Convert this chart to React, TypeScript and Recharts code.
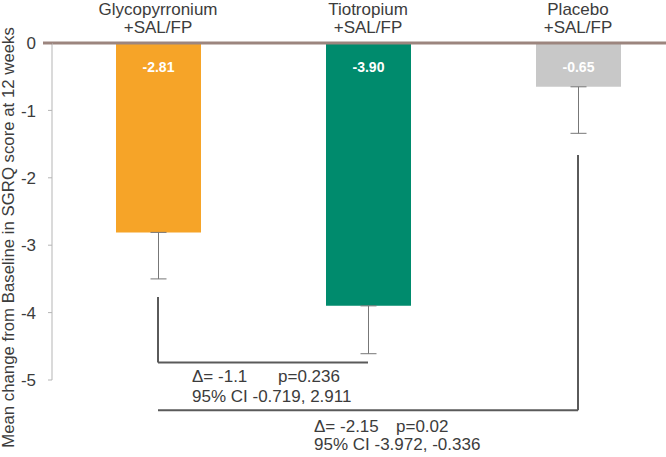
import { BarChart, Bar, XAxis, YAxis, Cell, ErrorBar, LabelList, ReferenceLine } from 'recharts';

// treatment arms and their mean change from baseline (SGRQ, week 12)
const groups = ['Glycopyrronium', 'Tiotropium', 'Placebo'];
const groupSuffix = '+SAL/FP';
const means = [-2.81, -3.9, -0.65];
const errLow = [0.69, 0.71, 0.69];
const barColors = ['#F6A428', '#008B6D', '#C8C8C8'];
const yTicks = [0, -1, -2, -3, -4, -5];

// between-arm comparisons (indices into groups)
const bracketPairs = [[0, 1], [0, 2]];
const bracketArm = [0, 2];
const bracketTop = [-3.77, -1.66];
const bracketBase = [-4.74, -5.45];
const comparisonDelta = ['-1.1', '-2.15'];
const comparisonP = ['0.236', '0.02'];
const comparisonCI = ['-0.719, 2.911', '-3.972, -0.336'];

const FONT = '"Liberation Sans", Arial, sans-serif';
const TEXT = '#3c3c3c';
const noteOffsets = [
  { dx: 34, dy: 20, px: 120, dy2: 40 },
  { dx: 156, dy: 22, px: 238, dy2: 40 },
];

const chartData = groups.map((name, i) => ({ name, value: means[i], err: [errLow[i], 0] }));

function GroupTick({ x, y, payload }: any) {
  return (
    <g fontFamily={FONT} fontSize={17} fill={TEXT}>
      <text x={x} y={y - 28} textAnchor="middle" fill={TEXT}>{payload.value}</text>
      <text x={x} y={y - 10} textAnchor="middle" fill={TEXT}>{groupSuffix}</text>
    </g>
  );
}

function ValueTick({ x, y, payload }: any) {
  const zero = payload.value === 0;
  return (
    <g>
      <line
        x1={x + (zero ? 7 : 12)}
        x2={x + 16}
        y1={y}
        y2={y}
        stroke={zero ? '#9C857E' : '#B5B5B5'}
        strokeWidth={zero ? 3 : 1}
      />
      <text x={x} y={y} dy="0.36em" textAnchor="end" fontFamily={FONT} fontSize={17} fill={TEXT}>
        {payload.value}
      </text>
    </g>
  );
}

function AxisTitle({ viewBox }: any) {
  const cy = viewBox.y + viewBox.height / 2 + 26;
  return (
    <text
      x={14}
      y={cy}
      transform={`rotate(-90, 14, ${cy})`}
      textAnchor="middle"
      fontFamily={FONT}
      fontSize={16.8}
      fill={TEXT}
    >
      Mean change from Baseline in SGRQ score at 12 weeks
    </text>
  );
}

function BarValue(props: any) {
  const vb = props.viewBox ?? props;
  const top = Math.min(vb.y, vb.y + vb.height);
  return (
    <text
      x={vb.x + vb.width / 2}
      y={top + 29}
      textAnchor="middle"
      fontFamily={FONT}
      fontSize={14}
      fontWeight="bold"
      fill="#FFFFFF"
    >
      {Number(props.value).toFixed(2)}
    </text>
  );
}

function Note({ viewBox, idx }: any) {
  const o = noteOffsets[idx];
  return (
    <g fontFamily={FONT} fontSize={17} fill={TEXT}>
      <text x={viewBox.x + o.dx} y={viewBox.y + o.dy} fill={TEXT}>Δ= {comparisonDelta[idx]}</text>
      <text x={viewBox.x + o.px} y={viewBox.y + o.dy} fill={TEXT}>p={comparisonP[idx]}</text>
      <text x={viewBox.x + o.dx} y={viewBox.y + o.dy2} fill={TEXT}>95% CI {comparisonCI[idx]}</text>
    </g>
  );
}

export default function App() {
  return (
    <div style={{ position: 'absolute', left: 0, top: 0, width: 666, height: 457, background: '#fff' }}>
      <BarChart
        width={666}
        height={457}
        data={chartData}
        margin={{ top: 0, right: -17, bottom: 77, left: 0 }}
        style={{ fontFamily: FONT }}
      >
        <XAxis
          dataKey="name"
          orientation="top"
          height={43}
          axisLine={false}
          tickLine={false}
          tickSize={0}
          tickMargin={0}
          padding={{ left: 1, right: 0 }}
          tick={<GroupTick />}
          interval={0}
        />
        <YAxis
          domain={[-5, 0]}
          ticks={yTicks}
          width={52}
          axisLine={{ stroke: '#B5B5B5' }}
          tickLine={false}
          tickSize={4}
          tickMargin={12}
          tick={<ValueTick />}
          interval={0}
          label={<AxisTitle />}
        />
        <Bar dataKey="value" barSize={85} isAnimationActive={false}>
          {chartData.map((d, i) => (
            <Cell key={d.name} fill={barColors[i]} />
          ))}
          <ErrorBar dataKey="err" width={8} stroke="#777" strokeWidth={1} direction="y" isAnimationActive={false} />
          <LabelList dataKey="value" content={<BarValue />} />
        </Bar>
        <ReferenceLine y={0} stroke="#9C857E" strokeWidth={3} />
        {bracketPairs.map((_, i) => (
          <ReferenceLine
            key={`arm-${i}`}
            ifOverflow="visible"
            stroke="#5A5A5A"
            strokeWidth={2}
            segment={[
              { x: groups[bracketArm[i]], y: bracketTop[i] },
              { x: groups[bracketArm[i]], y: bracketBase[i] },
            ]}
          />
        ))}
        {bracketPairs.map(([a, b], i) => (
          <ReferenceLine
            key={`base-${i}`}
            ifOverflow="visible"
            stroke="#5A5A5A"
            strokeWidth={2}
            segment={[
              { x: groups[a], y: bracketBase[i] },
              { x: groups[b], y: bracketBase[i] },
            ]}
            label={<Note idx={i} />}
          />
        ))}
      </BarChart>
    </div>
  );
}
